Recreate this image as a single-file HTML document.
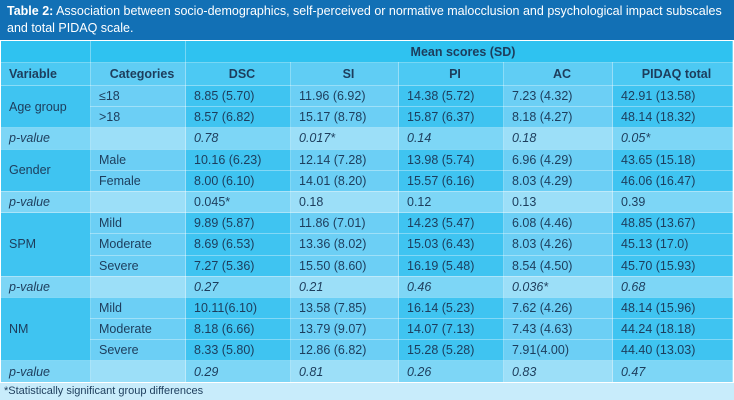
<!DOCTYPE html>
<html><head><meta charset="utf-8"><style>
body{margin:0;width:734px;height:400px;overflow:hidden;background:#fff;font-family:"Liberation Sans",sans-serif;}
.title{position:absolute;left:0;top:0;width:734px;height:40px;background:#1270b5;color:#fff;font-size:12.5px;line-height:17px;padding:3px 0 0 7px;box-sizing:border-box;}
table{position:absolute;left:0;top:40px;border-collapse:collapse;table-layout:fixed;width:732px;font-size:12.5px;color:#1d3d5c;}
td{border:1px solid rgba(255,255,255,0.35);padding:0 0 0 8px;height:20.2px;white-space:nowrap;}
tr.h1 td{height:21px;background:#2fc2f0;font-weight:bold;text-align:center;}
tr.h2 td{height:22px;font-weight:bold;text-align:center;background:#4cc9f3;}
tr.h2 td.l{background:#60cdf4}
td.d{background:#3fc4f1}
td.l{background:#6ccff5}
tr.p td.d{background:#7dd6f6}
tr.p td.l{background:#9cdff8}
tr.p td{font-style:italic}
.foot{position:absolute;left:0;top:383px;width:734px;height:17px;background:#c8ecfb;color:#1d3d5c;font-size:11px;line-height:17px;padding-left:4px;}
</style></head><body>
<div class="title"><b>Table 2:</b> Association between socio-demographics, self-perceived or normative malocclusion and psychological impact subscales and total PIDAQ scale.</div>
<table>
<colgroup><col style="width:90px"><col style="width:95px"><col style="width:105px"><col style="width:108px"><col style="width:105px"><col style="width:109px"><col style="width:120px"></colgroup>
<tr class="h1"><td class="d"></td><td class="l"></td><td colspan="5">Mean scores (SD)</td></tr>
<tr class="h2"><td style="text-align:left">Variable</td><td class="l">Categories</td><td>DSC</td><td class="l">SI</td><td>PI</td><td class="l">AC</td><td>PIDAQ total</td></tr>
<tr><td class="d" rowspan="2">Age group</td><td class="l">≤18</td><td class="d">8.85 (5.70)</td><td class="l">11.96 (6.92)</td><td class="d">14.38 (5.72)</td><td class="l">7.23 (4.32)</td><td class="d">42.91 (13.58)</td></tr>
<tr><td class="l">&gt;18</td><td class="d">8.57 (6.82)</td><td class="l">15.17 (8.78)</td><td class="d">15.87 (6.37)</td><td class="l">8.18 (4.27)</td><td class="d">48.14 (18.32)</td></tr>
<tr class="p"><td class="d">p-value</td><td class="l"></td><td class="d">0.78</td><td class="l">0.017*</td><td class="d">0.14</td><td class="l">0.18</td><td class="d">0.05*</td></tr>
<tr><td class="d" rowspan="2">Gender</td><td class="l">Male</td><td class="d">10.16 (6.23)</td><td class="l">12.14 (7.28)</td><td class="d">13.98 (5.74)</td><td class="l">6.96 (4.29)</td><td class="d">43.65 (15.18)</td></tr>
<tr><td class="l">Female</td><td class="d">8.00 (6.10)</td><td class="l">14.01 (8.20)</td><td class="d">15.57 (6.16)</td><td class="l">8.03 (4.29)</td><td class="d">46.06 (16.47)</td></tr>
<tr class="p"><td class="d">p-value</td><td class="l"></td><td class="d" style="font-style:normal">0.045*</td><td class="l" style="font-style:normal">0.18</td><td class="d" style="font-style:normal">0.12</td><td class="l" style="font-style:normal">0.13</td><td class="d" style="font-style:normal">0.39</td></tr>
<tr><td class="d" rowspan="3">SPM</td><td class="l">Mild</td><td class="d">9.89 (5.87)</td><td class="l">11.86 (7.01)</td><td class="d">14.23 (5.47)</td><td class="l">6.08 (4.46)</td><td class="d">48.85 (13.67)</td></tr>
<tr><td class="l">Moderate</td><td class="d">8.69 (6.53)</td><td class="l">13.36 (8.02)</td><td class="d">15.03 (6.43)</td><td class="l">8.03 (4.26)</td><td class="d">45.13 (17.0)</td></tr>
<tr><td class="l">Severe</td><td class="d">7.27 (5.36)</td><td class="l">15.50 (8.60)</td><td class="d">16.19 (5.48)</td><td class="l">8.54 (4.50)</td><td class="d">45.70 (15.93)</td></tr>
<tr class="p"><td class="d">p-value</td><td class="l"></td><td class="d">0.27</td><td class="l">0.21</td><td class="d">0.46</td><td class="l">0.036*</td><td class="d">0.68</td></tr>
<tr><td class="d" rowspan="3">NM</td><td class="l">Mild</td><td class="d">10.11(6.10)</td><td class="l">13.58 (7.85)</td><td class="d">16.14 (5.23)</td><td class="l">7.62 (4.26)</td><td class="d">48.14 (15.96)</td></tr>
<tr><td class="l">Moderate</td><td class="d">8.18 (6.66)</td><td class="l">13.79 (9.07)</td><td class="d">14.07 (7.13)</td><td class="l">7.43 (4.63)</td><td class="d">44.24 (18.18)</td></tr>
<tr><td class="l">Severe</td><td class="d">8.33 (5.80)</td><td class="l">12.86 (6.82)</td><td class="d">15.28 (5.28)</td><td class="l">7.91(4.00)</td><td class="d">44.40 (13.03)</td></tr>
<tr class="p"><td class="d">p-value</td><td class="l"></td><td class="d">0.29</td><td class="l">0.81</td><td class="d">0.26</td><td class="l">0.83</td><td class="d">0.47</td></tr>
</table>
<div class="foot">*Statistically significant group differences</div>
</body></html>
